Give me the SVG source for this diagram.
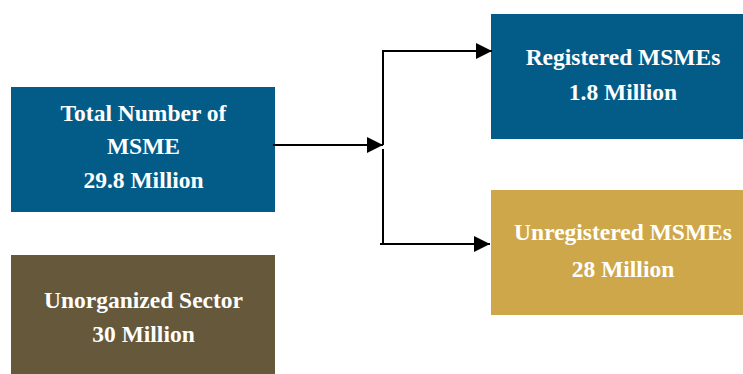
<svg xmlns="http://www.w3.org/2000/svg" width="743" height="374" viewBox="0 0 743 374">
  <style>
    .lbl { font-family: "Liberation Serif", "Times New Roman", serif; font-weight: bold; font-size: 23.5px; fill: #ffffff; text-anchor: middle; }
    .conn { fill: none; stroke: #000000; stroke-width: 2; }
  </style>
  <defs>
    <marker id="arrow" markerUnits="userSpaceOnUse" markerWidth="16" markerHeight="16" refX="16" refY="8" orient="auto">
      <path d="M0,0 L16,8 L0,16 Z" fill="#000000"/>
    </marker>
  </defs>
  <rect width="743" height="374" fill="#ffffff"/>
  <g id="total">
    <rect x="11" y="87" width="264" height="125" fill="#035C88"/>
    <text class="lbl" x="143.5" y="121">Total Number of</text>
    <text class="lbl" x="143.5" y="154">MSME</text>
    <text class="lbl" x="143.5" y="188">29.8 Million</text>
  </g>
  <g id="unorganized">
    <rect x="11" y="255" width="264" height="119" fill="#66583A"/>
    <text class="lbl" x="143.5" y="308">Unorganized Sector</text>
    <text class="lbl" x="143.5" y="342">30 Million</text>
  </g>
  <g id="registered">
    <rect x="491" y="14" width="262" height="125" fill="#035C88"/>
    <text class="lbl" x="623" y="65">Registered MSMEs</text>
    <text class="lbl" x="623" y="100">1.8 Million</text>
  </g>
  <g id="unregistered">
    <rect x="491" y="190" width="262" height="125" fill="#CFA74B"/>
    <text class="lbl" x="623" y="240">Unregistered MSMEs</text>
    <text class="lbl" x="623" y="277">28 Million</text>
  </g>
  <g id="connectors">
    <path class="conn" d="M273,145 H383" marker-end="url(#arrow)"/>
    <path class="conn" d="M383,145 V51 H492" marker-end="url(#arrow)"/>
    <path class="conn" d="M383,149 V244"/>
    <path class="conn" d="M380,244 H490" marker-end="url(#arrow)"/>
  </g>
</svg>
